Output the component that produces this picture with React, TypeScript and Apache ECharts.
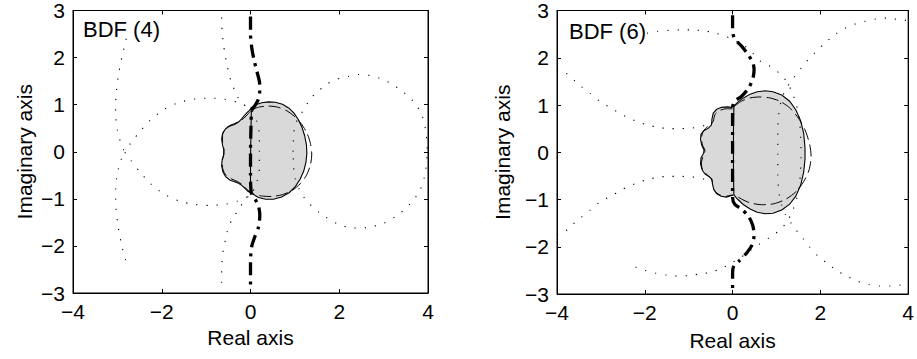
import React, { useEffect, useRef } from 'react';
import * as echarts from 'echarts';

type P = [number, number];

const FONT = '"Liberation Sans", Arial, Helvetica, sans-serif';
const PANEL_TITLES = ['BDF (4)', 'BDF (6)'];
const X_NAME = 'Real axis';
const Y_NAME = 'Imaginary axis';

// ---------- BDF (4) ----------
const bdf4Region: P[] = [
  [0.02, 0.94], [0.12, 1.0], [0.25, 1.04], [0.4, 1.06], [0.56, 1.05], [0.72, 1.01], [0.86, 0.93], [0.98, 0.82],
  [1.08, 0.68], [1.16, 0.52], [1.22, 0.34], [1.26, 0.15], [1.27, -0.03], [1.25, -0.22], [1.2, -0.41], [1.12, -0.58],
  [1.01, -0.74], [0.87, -0.87], [0.7, -0.96], [0.52, -1.01], [0.34, -1.01], [0.18, -0.97], [0.07, -0.91], [0.0, -0.87],
  [-0.06, -0.84], [-0.12, -0.78], [-0.19, -0.72], [-0.27, -0.67], [-0.37, -0.63], [-0.47, -0.6], [-0.56, -0.53],
  [-0.62, -0.43], [-0.65, -0.3], [-0.64, -0.17], [-0.6, -0.06], [-0.6, 0.04], [-0.63, 0.14], [-0.65, 0.27],
  [-0.63, 0.39], [-0.56, 0.49], [-0.46, 0.55], [-0.36, 0.58], [-0.27, 0.63], [-0.2, 0.7], [-0.13, 0.78],
  [-0.07, 0.84], [-0.02, 0.88],
];
const bdf4Divider: P[] = [[0.02, 0.94], [0.01, 0.4], [0.0, -0.3], [0.0, -0.87]];
const bdf4DashedRight: P[] = [
  [0.04, 0.9], [0.2, 0.95], [0.4, 0.97], [0.6, 0.95], [0.8, 0.88], [0.98, 0.76], [1.14, 0.6], [1.27, 0.4],
  [1.35, 0.18], [1.38, -0.05], [1.35, -0.28], [1.26, -0.5], [1.12, -0.68], [0.94, -0.82], [0.72, -0.91],
  [0.48, -0.95], [0.25, -0.94], [0.08, -0.9], [0.0, -0.86],
];
const bdf4DashedLeft: P[] = [
  [0.0, 0.86], [-0.06, 0.8], [-0.14, 0.72], [-0.24, 0.65], [-0.36, 0.6], [-0.48, 0.55], [-0.58, 0.47],
  [-0.63, 0.35], [-0.63, 0.2], [-0.6, 0.06], [-0.61, -0.08], [-0.64, -0.22], [-0.62, -0.38], [-0.55, -0.5],
  [-0.42, -0.58], [-0.3, -0.63], [-0.18, -0.7], [-0.08, -0.8], [0.0, -0.86],
];
const bdf4Thick: P[] = [
  [0, 2.87], [0.0, 2.5], [0.03, 2.2], [0.08, 1.95], [0.14, 1.72], [0.2, 1.5], [0.21, 1.32], [0.18, 1.12],
  [0.1, 0.98], [0.03, 0.88], [0.01, 0.5], [0.0, 0], [0.0, -0.5], [0.02, -0.88], [0.1, -1.0], [0.18, -1.15],
  [0.21, -1.35], [0.18, -1.6], [0.1, -1.8], [0.03, -2.0], [0.0, -2.3], [0, -2.87],
];
const bdf4DotArc: P[] = [
  [-2.8, 2.4], [-2.9, 2.0], [-2.98, 1.6], [-3.03, 1.2], [-3.04, 0.8], [-3.0, 0.45], [-2.92, 0.18], [-2.85, 0],
  [-2.92, -0.18], [-3.0, -0.45], [-3.04, -0.8], [-3.03, -1.2], [-2.98, -1.6], [-2.9, -2.0], [-2.8, -2.35],
];
const bdf4DotLoop: P[] = [
  [0.2, 0.0], [0.2, 0.35], [0.15, 0.62], [0.05, 0.85], [-0.1, 0.97], [-0.3, 1.05], [-0.55, 1.11], [-0.9, 1.14],
  [-1.25, 1.12], [-1.6, 1.05], [-1.95, 0.9], [-2.25, 0.68], [-2.5, 0.42], [-2.7, 0.18], [-2.83, 0],
  [-2.7, -0.18], [-2.5, -0.42], [-2.25, -0.68], [-1.95, -0.9], [-1.6, -1.05], [-1.25, -1.12], [-0.9, -1.14],
  [-0.55, -1.11], [-0.3, -1.05], [-0.1, -0.97], [0.05, -0.85], [0.15, -0.62], [0.2, -0.35], [0.2, 0.0],
];
const bdf4DotUpper: P[] = [
  [-0.65, 2.85], [-0.64, 2.55], [-0.61, 2.3], [-0.58, 2.1], [-0.54, 1.89], [-0.49, 1.68], [-0.43, 1.47],
  [-0.35, 1.29], [-0.28, 1.15], [-0.2, 1.05], [-0.12, 0.98], [-0.04, 0.93],
];
const bdf4DotLower: P[] = [
  [-0.05, -0.95], [-0.15, -1.05], [-0.24, -1.19], [-0.39, -1.4], [-0.5, -1.61], [-0.56, -1.85], [-0.61, -2.06],
  [-0.64, -2.31], [-0.65, -2.52], [-0.65, -2.78],
];
const bdf4DotRight: P[] = [
  [0.96, 0.0], [0.97, 0.3], [1.0, 0.55], [1.1, 0.75], [1.22, 0.92], [1.34, 1.12], [1.53, 1.29], [1.71, 1.43],
  [1.94, 1.54], [2.2, 1.6], [2.43, 1.64], [2.69, 1.62], [2.92, 1.56], [3.14, 1.46], [3.44, 1.27], [3.7, 1.04],
  [3.87, 0.76], [3.96, 0.38], [3.98, 0.0], [3.94, -0.45], [3.82, -0.82], [3.64, -1.06], [3.38, -1.3],
  [3.0, -1.52], [2.62, -1.61], [2.3, -1.62], [1.94, -1.52], [1.56, -1.3], [1.26, -1.04], [1.1, -0.8],
  [1.0, -0.55], [0.97, -0.3], [0.96, 0.0],
];

// ---------- BDF (6) ----------
const bdf6Region: P[] = [
  [0.03, 0.98], [0.12, 1.06], [0.25, 1.15], [0.4, 1.23], [0.56, 1.28], [0.74, 1.3], [0.92, 1.28], [1.12, 1.21],
  [1.3, 1.08], [1.44, 0.9], [1.55, 0.67], [1.62, 0.4], [1.65, 0.1], [1.65, -0.15], [1.62, -0.42], [1.55, -0.7],
  [1.44, -0.93], [1.3, -1.1], [1.12, -1.22], [0.92, -1.29], [0.74, -1.3], [0.56, -1.27], [0.4, -1.2],
  [0.25, -1.11], [0.12, -1.0], [0.03, -0.9],
  [-0.04, -0.92], [-0.14, -0.95], [-0.26, -0.93], [-0.36, -0.88], [-0.43, -0.79], [-0.46, -0.66], [-0.47, -0.57],
  [-0.53, -0.52], [-0.62, -0.47], [-0.69, -0.38], [-0.73, -0.25], [-0.72, -0.12], [-0.66, -0.02], [-0.65, 0.05],
  [-0.7, 0.14], [-0.73, 0.27], [-0.72, 0.38], [-0.65, 0.46], [-0.55, 0.51], [-0.48, 0.58], [-0.47, 0.7],
  [-0.44, 0.83], [-0.36, 0.91], [-0.25, 0.95], [-0.12, 0.96], [-0.02, 0.95],
];
const bdf6Divider: P[] = [[0.03, 0.98], [0.02, 0.4], [0.02, -0.4], [0.03, -0.9]];
const bdf6DashedRight: P[] = [
  [0.05, 0.98], [0.2, 1.08], [0.4, 1.15], [0.62, 1.17], [0.85, 1.15], [1.08, 1.08], [1.3, 0.94], [1.5, 0.72],
  [1.66, 0.45], [1.76, 0.15], [1.79, -0.1], [1.74, -0.38], [1.62, -0.62], [1.44, -0.84], [1.2, -1.0],
  [0.94, -1.09], [0.66, -1.11], [0.4, -1.07], [0.2, -0.99], [0.05, -0.9],
];
const bdf6DashedLeft: P[] = [
  [0.0, 0.92], [-0.15, 0.92], [-0.3, 0.88], [-0.4, 0.8], [-0.44, 0.66], [-0.5, 0.58], [-0.6, 0.52],
  [-0.68, 0.42], [-0.71, 0.28], [-0.68, 0.14], [-0.63, 0.04], [-0.67, -0.08], [-0.71, -0.22], [-0.69, -0.36],
  [-0.6, -0.46], [-0.5, -0.54], [-0.45, -0.66], [-0.42, -0.8], [-0.3, -0.9], [-0.15, -0.93], [0.0, -0.9],
];
const bdf6Thick: P[] = [
  [0, 2.9], [0, 2.55], [0.05, 2.4], [0.2, 2.25], [0.35, 2.07], [0.46, 1.9], [0.49, 1.75], [0.46, 1.55],
  [0.36, 1.35], [0.2, 1.18], [0.05, 1.08], [0, 0.95], [0, 0], [0, -0.95], [0.05, -1.1], [0.2, -1.2],
  [0.36, -1.35], [0.46, -1.55], [0.49, -1.75], [0.45, -1.95], [0.33, -2.12], [0.15, -2.3], [0.03, -2.4],
  [0, -2.55], [0, -2.9],
];
const bdf6DotUpperLeft: P[] = [
  [-4, 1.74], [-3.82, 1.69], [-3.63, 1.54], [-3.46, 1.4], [-3.24, 1.24], [-3.03, 1.08], [-2.8, 0.95],
  [-2.6, 0.84], [-2.4, 0.74], [-2.2, 0.66], [-1.95, 0.58], [-1.7, 0.53], [-1.45, 0.5], [-1.2, 0.5],
  [-0.95, 0.51], [-0.72, 0.54], [-0.55, 0.6],
];
const bdf6DotLowerLeft: P[] = [
  [-4, -1.74], [-3.85, -1.7], [-3.63, -1.52], [-3.45, -1.38], [-3.24, -1.22], [-3.03, -1.06], [-2.8, -0.94],
  [-2.6, -0.84], [-2.4, -0.73], [-2.2, -0.66], [-1.95, -0.58], [-1.7, -0.53], [-1.45, -0.51], [-1.2, -0.51],
  [-0.95, -0.52], [-0.72, -0.55], [-0.55, -0.6],
];
const bdf6DotMiddle: P[] = [
  [-1.95, 2.52], [-1.7, 2.56], [-1.44, 2.58], [-1.18, 2.59], [-0.91, 2.59], [-0.65, 2.57], [-0.38, 2.52],
  [-0.16, 2.45], [0.05, 2.37], [0.26, 2.26], [0.45, 2.1], [0.63, 1.93], [0.89, 1.8], [1.08, 1.66], [1.23, 1.5],
  [1.35, 1.28], [1.45, 1.02], [1.52, 0.72], [1.55, 0.36], [1.56, 0.0], [1.55, -0.36], [1.52, -0.72],
  [1.45, -1.02], [1.35, -1.28], [1.22, -1.5], [1.06, -1.66], [0.85, -1.8], [0.6, -1.95], [0.4, -2.08],
  [0.2, -2.22], [0.0, -2.33], [-0.25, -2.46], [-0.5, -2.54], [-0.77, -2.58], [-1.0, -2.61], [-1.22, -2.62],
  [-1.5, -2.6], [-1.75, -2.56], [-2.0, -2.5], [-2.24, -2.42],
];
const bdf6DotRight: P[] = [
  [3.95, 2.79], [3.83, 2.8], [3.53, 2.84], [3.27, 2.82], [3.01, 2.77], [2.78, 2.71], [2.55, 2.62], [2.33, 2.49],
  [2.1, 2.31], [1.91, 2.14], [1.72, 1.96], [1.57, 1.79], [1.42, 1.61], [1.3, 1.46], [1.2, 1.32], [1.12, 1.12],
  [1.06, 0.88], [1.03, 0.5], [1.03, 0.0], [1.03, -0.5], [1.06, -0.88], [1.12, -1.12], [1.2, -1.32],
  [1.32, -1.48], [1.45, -1.65], [1.6, -1.82], [1.75, -2.0], [1.95, -2.2], [2.18, -2.37], [2.4, -2.52],
  [2.62, -2.63], [2.85, -2.73], [3.1, -2.8], [3.35, -2.83], [3.6, -2.83], [3.83, -2.81], [3.95, -2.8],
];

const panels = [
  {
    region: bdf4Region, divider: bdf4Divider, dashed: [bdf4DashedRight, bdf4DashedLeft], thick: bdf4Thick,
    dotted: [bdf4DotArc, bdf4DotLoop, bdf4DotUpper, bdf4DotLower, bdf4DotRight],
  },
  {
    region: bdf6Region, divider: bdf6Divider, dashed: [bdf6DashedRight, bdf6DashedLeft], thick: bdf6Thick,
    dotted: [bdf6DotUpperLeft, bdf6DotLowerLeft, bdf6DotMiddle, bdf6DotRight],
  },
];

const GRIDS = [
  { left: 73, top: 7, width: 355, height: 286 },
  { left: 557, top: 9, width: 354, height: 285 },
];
const TITLE_POS = [{ left: 83, top: 18 }, { left: 569, top: 20 }];
const X_NAME_GAP = [34, 36];
const Y_NAME_GAP = [38, 44];

const fmt = (v: number) => (v < 0 ? '\u2212' + Math.abs(v) : String(v));

function buildOption() {
  const xAxis: any[] = [];
  const yAxis: any[] = [];
  const series: any[] = [];
  const tickStyle = { inside: true, length: 4, lineStyle: { color: '#000', width: 1 } };
  const lineAx = { show: true, onZero: false, lineStyle: { color: '#000', width: 1 } };
  const labelStyle = { color: '#000', fontSize: 21, fontFamily: FONT };

  panels.forEach((pn, i) => {
    xAxis.push({
      type: 'value', gridIndex: i, min: -4, max: 4, interval: 2, position: 'bottom',
      axisLine: lineAx, axisTick: tickStyle, splitLine: { show: false },
      axisLabel: { ...labelStyle, formatter: fmt, margin: 8 },
      name: X_NAME, nameLocation: 'middle', nameGap: X_NAME_GAP[i],
      nameTextStyle: { color: '#000', fontSize: 21, fontFamily: FONT },
    });
    xAxis.push({
      type: 'value', gridIndex: i, min: -4, max: 4, interval: 2, position: 'top',
      axisLine: lineAx, axisTick: tickStyle, splitLine: { show: false }, axisLabel: { show: false },
    });
    yAxis.push({
      type: 'value', gridIndex: i, min: -3, max: 3, interval: 1, position: 'left',
      axisLine: lineAx, axisTick: tickStyle, splitLine: { show: false },
      axisLabel: { ...labelStyle, formatter: fmt, margin: 8 },
      name: Y_NAME, nameLocation: 'middle', nameGap: Y_NAME_GAP[i],
      nameTextStyle: { color: '#000', fontSize: 21, fontFamily: FONT },
    });
    yAxis.push({
      type: 'value', gridIndex: i, min: -3, max: 3, interval: 1, position: 'right',
      axisLine: lineAx, axisTick: tickStyle, splitLine: { show: false }, axisLabel: { show: false },
    });
    const xi = i * 2;
    const yi = i * 2;
    const region = pn.region;
    series.push({
      type: 'custom', xAxisIndex: xi, yAxisIndex: yi, data: region, silent: true, z: 1,
      encode: { x: 0, y: 1 },
      renderItem: (params: any, api: any) => {
        if (params.dataIndex !== 0) return null;
        const pts = region.map((p) => api.coord(p));
        return {
          type: 'polygon', shape: { points: pts },
          style: { fill: '#d9d9d9', stroke: '#000', lineWidth: 1.1 },
        };
      },
    });
    const line = (data: P[], style: any, z: number) => ({
      type: 'line', xAxisIndex: xi, yAxisIndex: yi, data, symbol: 'none', silent: true, z,
      smooth: 0.25, lineStyle: style,
    });
    pn.dotted.forEach((d) => series.push(line(d, { color: '#000', width: 1.1, type: [1.2, 9], cap: 'butt' }, 2)));
    pn.dashed.forEach((d) => series.push(line(d, { color: '#000', width: 1, type: [12, 5] }, 3)));
    series.push(line(pn.divider, { color: '#000', width: 1.1, type: 'solid' }, 3));
    series.push(line(pn.thick, { color: '#000', width: 3.3, type: [13, 6, 3, 6], cap: 'butt' }, 4));
  });

  return {
    animation: false,
    backgroundColor: '#fff',
    title: PANEL_TITLES.map((t, i) => ({
      text: t, left: TITLE_POS[i].left, top: TITLE_POS[i].top, padding: 0,
      textStyle: { fontSize: 22, fontWeight: 'normal', color: '#000', fontFamily: FONT },
    })),
    grid: GRIDS.map((g) => ({ ...g, show: true, borderColor: '#000', borderWidth: 1, backgroundColor: 'transparent' })),
    xAxis,
    yAxis,
    series,
  };
}

export default function App() {
  const ref = useRef<HTMLDivElement>(null);
  useEffect(() => {
    if (!ref.current) return;
    const chart = echarts.init(ref.current, undefined, { renderer: 'svg' });
    chart.setOption(buildOption() as any);
    return () => chart.dispose();
  }, []);
  return (
    <div
      ref={ref}
      style={{ position: 'absolute', left: 0, top: 0, width: 917, height: 359, background: '#fff' }}
    />
  );
}
